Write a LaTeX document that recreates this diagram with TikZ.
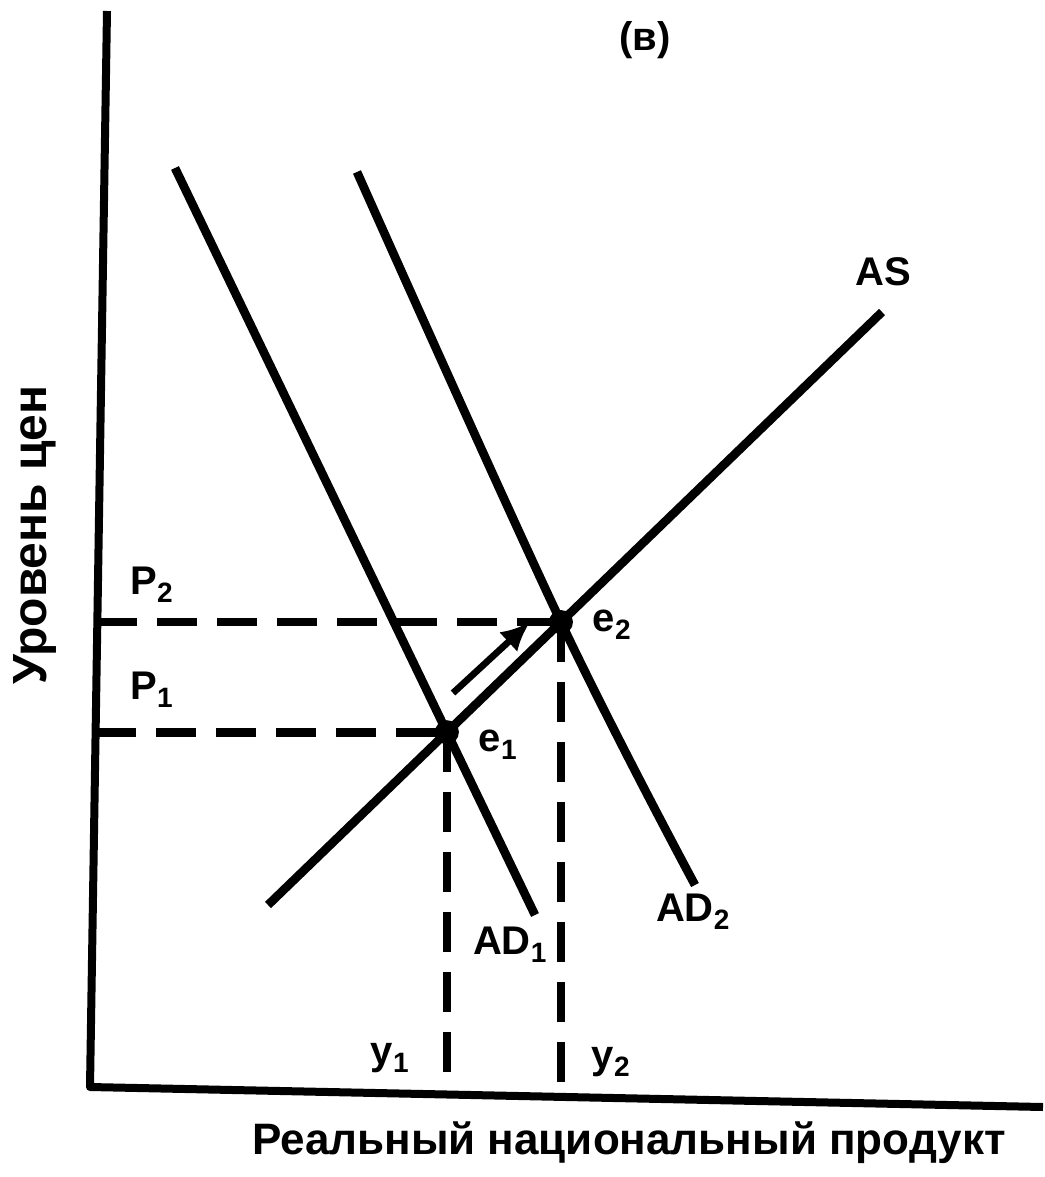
\documentclass[tikz,border=0pt]{standalone}
\usepackage{fontspec}
\setmainfont{Liberation Sans}
\usetikzlibrary{arrows.meta,intersections,calc}

\begin{document}
\begin{tikzpicture}[x=0.75pt, y=-0.75pt, >=Latex,
    lbl/.style={font=\fontsize{30}{34}\selectfont\bfseries, inner sep=0pt},
    curve/.style={line width=6.5pt},
    guide/.style={line width=6.5pt, dash pattern=on 30pt off 15pt}]
    \useasboundingbox (0,0) rectangle (1045,1177);
    % axes
    \coordinate (top) at (107,11);
    \coordinate (origin) at (90,1087);
    \coordinate (xend) at (1043,1107);
    \draw[line width=6pt, line join=round] (top) -- (origin) -- (xend);
    % demand and supply
    \draw[curve, name path=ad1] (175,168) -- (535,915);
    \draw[curve, name path=ad2] plot[smooth, tension=0.6] coordinates {
      (357,172) (560,620) (695,885)
    };
    \draw[curve, name path=as] (268,905) -- (882,312);
    \path[name intersections={of=ad1 and as, by=e1}];
    \path[name intersections={of=ad2 and as, by=e2}];
    \fill (e1) circle (9pt);
    \fill (e2) circle (9pt);
    % guide lines
    \draw[guide] ($(e2 -| origin)+(7,0)$) -- (e2);
    \draw[guide] ($(e1 -| origin)+(6,0)$) -- (e1);
    \draw[guide] (e1) -- ($(e1 |- origin)+(0,7)$);
    \draw[guide] (e2) -- ($(e2 |- origin)+(0,9)$);
    % shift along AS
    \coordinate (mvfrom) at (453,693);
    \coordinate (mvto) at (530,622);
    \draw[->, line width=5pt, >={Latex[length=22pt, width=20pt]}] (mvfrom) -- (mvto);
    % labels
    \node[lbl] (title) at (645,40) {(в)};
    \node[lbl] (lp2) at (152,585) {P\textsubscript{2}};
    \node[lbl] (lp1) at (152,690) {P\textsubscript{1}};
    \node[lbl] (le2) at (612,625) {e\textsubscript{2}};
    \node[lbl] (le1) at (498,745) {e\textsubscript{1}};
    \node[lbl] (lad1) at (510,945) {AD\textsubscript{1}};
    \node[lbl] (lad2) at (693,912) {AD\textsubscript{2}};
    \node[lbl] (las) at (883,272) {AS};
    \node[lbl] (ly1) at (390,1058) {y\textsubscript{1}};
    \node[lbl] (ly2) at (611,1062) {y\textsubscript{2}};
    \node[lbl, font=\fontsize{36}{40}\selectfont\bfseries, rotate=90] (yname) at (35,535) {Уровень цен};
    \node[lbl, font=\fontsize{33}{36}\selectfont\bfseries] (xname) at (629,1143) {Реальный национальный продукт};
\end{tikzpicture}
\end{document}
